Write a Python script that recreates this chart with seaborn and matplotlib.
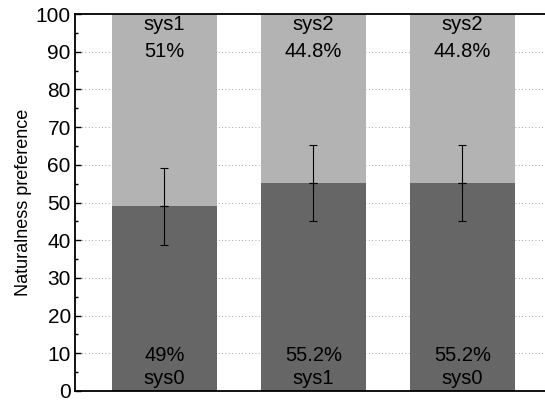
import numpy as np
import pandas as pd
import matplotlib
matplotlib.use("Agg")
import matplotlib.pyplot as plt
import seaborn as sns

# data
pairs = ["sys1 vs sys0", "sys2 vs sys1", "sys2 vs sys0"]
bottom_names = ["sys0", "sys1", "sys0"]
top_names = ["sys1", "sys2", "sys2"]
bottom_pct = [49.0, 55.2, 55.2]
top_pct = [51.0, 44.8, 44.8]
err = [10.2, 10.1, 10.1]

df = pd.DataFrame({"pair": pairs, "bottom": bottom_pct, "total": [100, 100, 100]})

sns.set_style("white")
plt.rcParams['font.family'] = ['Liberation Sans', 'DejaVu Sans']
plt.rcParams['text.color'] = 'black'
plt.rcParams['axes.labelcolor'] = 'black'
plt.rcParams['ytick.color'] = 'black'

fig = plt.figure(figsize=(5.45, 4.01), dpi=100)
ax = fig.add_axes([75 / 545, 10 / 401, 476.8 / 545, 377 / 401])

sns.barplot(data=df, x="pair", y="total", color="#b3b3b3", saturation=1,
            width=0.705, ax=ax, zorder=2, linewidth=0, edgecolor="none")
sns.barplot(data=df, x="pair", y="bottom", color="#666666", saturation=1,
            width=0.705, ax=ax, zorder=3, linewidth=0, edgecolor="none")

xs = np.arange(len(pairs))
ax.errorbar(xs, bottom_pct, yerr=err, fmt="none", ecolor="black",
            elinewidth=0.8, capsize=3, capthick=0.8, zorder=5)
# little mark at the mean
ax.errorbar(xs, bottom_pct, yerr=0, fmt="none", ecolor="black",
            capsize=3, capthick=0.8, zorder=5)

for i in range(len(pairs)):
    ax.text(xs[i], 97.2, top_names[i], ha="center", va="center", fontsize=14.5, zorder=6)
    ax.text(xs[i], 90, f"{top_pct[i]:g}%", ha="center", va="center", fontsize=14.5, zorder=6)
    ax.text(xs[i], 9.5, f"{bottom_pct[i]:g}%", ha="center", va="center", fontsize=14.5, zorder=6)
    ax.text(xs[i], 3.3, bottom_names[i], ha="center", va="center", fontsize=14.5, zorder=6)

ax.set_xlim(-0.6, 2.6)
ax.set_ylim(0, 100)
ax.set_yticks(np.arange(0, 101, 10))
ax.set_yticks(np.arange(0, 101, 5), minor=True)
ax.set_xticks([])
ax.set_xlabel("")
ax.set_ylabel("Naturalness preference", fontsize=13, labelpad=3)
ax.yaxis.grid(True, which="major", linestyle=(0, (1, 3)), color="#888888",
              linewidth=0.6, zorder=0)
ax.set_axisbelow(True)
ax.tick_params(axis="y", which="major", direction="in", length=4, width=1,
               labelsize=15, pad=3, left=True)
ax.tick_params(axis="y", which="minor", direction="in", length=2.5, width=1, left=True)
for s in ["left", "bottom", "top"]:
    ax.spines[s].set_visible(True)
    ax.spines[s].set_color("black")
    ax.spines[s].set_linewidth(1.3)
ax.spines["top"].set_zorder(10)
ax.spines["bottom"].set_zorder(10)
ax.spines["right"].set_visible(False)

fig.savefig("out.png", dpi=100)
